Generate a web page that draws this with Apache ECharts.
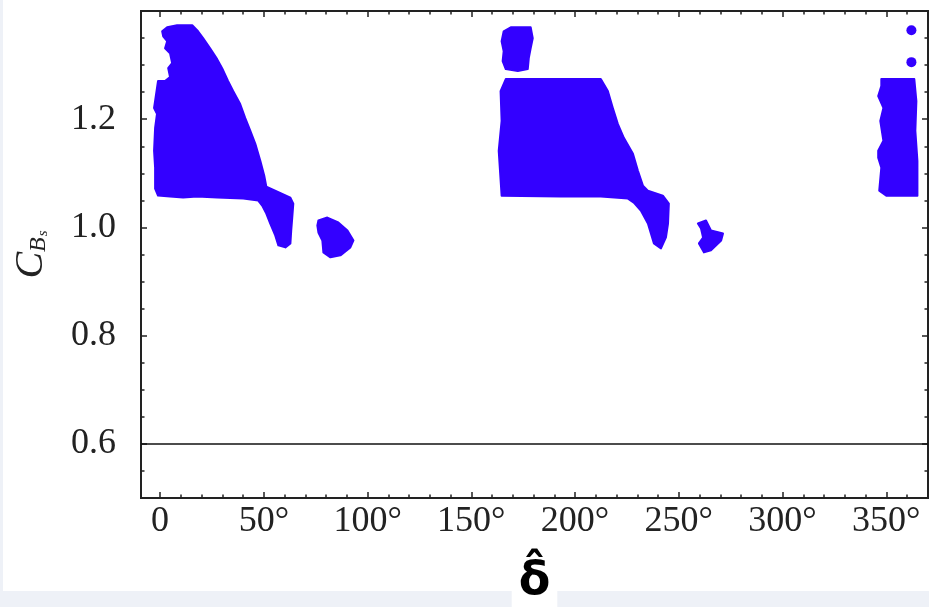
<!DOCTYPE html>
<html lang="en">
<head>
  <meta charset="UTF-8">
  <title>C_Bs vs delta</title>
  <style>
    html,
    body {
      margin: 0;
      padding: 0;
      background: #eef1f7;
    }

    #panel {
      position: absolute;
      left: 3px;
      top: 0;
      width: 926px;
      height: 591px;
      background: #fff;
    }

    #main {
      position: absolute;
      left: 0;
      top: 0;
      width: 929px;
      height: 607px;
    }
  </style>
</head>
<body>
  <div id="panel"></div>
  <div id="main"></div>
  <script src="https://cdn.jsdelivr.net/npm/echarts@6/dist/echarts.min.js"></script>
  <script>
    // tick positions
    const xMajor = [0, 50, 100, 150, 200, 250, 300, 350];
    const xMinor = [10, 20, 30, 40, 60, 70, 80, 90, 110, 120, 130, 140, 160, 170, 180, 190,
      210, 220, 230, 240, 260, 270, 280, 290, 310, 320, 330, 340, 360];
    const yMajor = [0.6, 0.8, 1.0, 1.2];
    const yMinor = [0.55, 0.65, 0.7, 0.75, 0.85, 0.9, 0.95, 1.05, 1.1, 1.15, 1.25, 1.3, 1.35];

    // allowed regions, outlines as [delta (deg), C_Bs]
    const leftMain = [
      [1.0, 1.3625], [3.4, 1.3699], [8.2, 1.3736], [15.5, 1.3736], [18.3, 1.3625], [20.8, 1.3496],
      [24.1, 1.3312], [27.5, 1.3110], [29.9, 1.2944], [32.8, 1.2705], [35.2, 1.2521], [38.6, 1.2282],
      [41.0, 1.2024], [43.5, 1.1785], [45.9, 1.1545], [48.3, 1.1233], [50.2, 1.0956], [51.2, 1.0754],
      [56.5, 1.0662], [62.8, 1.0552], [64.2, 1.0441], [63.7, 1.0183], [63.2, 0.9944], [62.8, 0.9705],
      [60.4, 0.9631], [57.0, 0.9668], [55.5, 0.9852], [53.1, 1.0073], [51.2, 1.0257], [49.2, 1.0404],
      [47.3, 1.0496], [40.1, 1.0533], [27.5, 1.0552], [17.9, 1.0570], [11.1, 1.0552], [4.8, 1.0570],
      [-1.0, 1.0588], [-2.4, 1.0717], [-2.4, 1.1104], [-2.9, 1.1417], [-2.4, 1.1840], [-1.5, 1.2098],
      [-2.9, 1.2208], [-2.4, 1.2337], [-1.5, 1.2576], [-1.0, 1.2705], [2.4, 1.2705], [4.8, 1.2779],
      [3.9, 1.2944], [5.8, 1.3036], [4.8, 1.3220], [2.4, 1.3312], [3.4, 1.3441], [1.5, 1.3533]
    ];
    const leftIsle = [
      [76.3, 1.0128], [80.6, 1.0183], [85.9, 1.0091], [90.3, 0.9944], [93.2, 0.9760], [91.7, 0.9631],
      [86.9, 0.9484], [82.1, 0.9447], [78.7, 0.9539], [78.2, 0.9760], [76.3, 0.9907], [75.8, 1.0036]
    ];
    const midTop = [
      [165.6, 1.3625], [169.0, 1.3699], [178.6, 1.3699], [179.6, 1.3496], [178.6, 1.3312], [177.7, 1.3128],
      [177.2, 1.2926], [172.4, 1.2889], [166.6, 1.2926], [165.1, 1.3073], [165.6, 1.3257], [164.6, 1.3441]
    ];
    const midMain = [
      [166.6, 1.2742], [212.4, 1.2742], [215.8, 1.2521], [218.2, 1.2208], [220.6, 1.1914], [223.5, 1.1656],
      [227.9, 1.1361], [230.3, 1.1048], [232.7, 1.0772], [235.1, 1.0680], [242.3, 1.0588], [245.2, 1.0441],
      [244.8, 1.0073], [243.8, 0.9815], [241.4, 0.9613], [238.0, 0.9705], [235.1, 1.0073], [231.7, 1.0312],
      [228.3, 1.0459], [225.5, 1.0533], [212.4, 1.0570], [193.1, 1.0570], [164.6, 1.0588], [163.2, 1.1417],
      [164.6, 1.1969], [164.1, 1.2521]
    ];
    const midIsle = [
      [259.2, 1.0073], [263.1, 1.0128], [265.5, 0.9944], [271.3, 0.9889], [270.4, 0.9760], [265.5, 0.9576],
      [262.1, 0.9539], [259.7, 0.9705], [261.7, 0.9815], [260.7, 0.9981]
    ];
    const rightMain = [
      [347.6, 1.2742], [363.5, 1.2742], [364.5, 1.2337], [364.0, 1.1785], [365.0, 1.1233], [365.0, 1.0588],
      [350.0, 1.0588], [346.6, 1.0680], [347.6, 1.1104], [346.1, 1.1288], [346.1, 1.1417], [348.6, 1.1601],
      [347.1, 1.1969], [348.6, 1.2208], [346.1, 1.2429], [347.6, 1.2613]
    ];
    const loosePoints = [[362.1, 1.3644], [362.1, 1.3055]];
    const limitLine = 0.6;

    const regions = [leftMain, leftIsle, midTop, midMain, midIsle, rightMain];

    const blue = '#3300ff';
    const ink = '#222';
    const serif = 'Liberation Serif';

    const tickLine = { color: ink, width: 1.5 };

    const xAxisOf = (pos, values, len, withLabel) => ({
      type: 'value',
      position: pos,
      min: -9.2,
      max: 370.1,
      axisLine: { show: false, onZero: false },
      splitLine: { show: false },
      axisTick: { show: true, inside: true, length: len, lineStyle: tickLine, customValues: values },
      axisLabel: withLabel ? {
        show: true,
        customValues: values,
        margin: 6,
        fontFamily: serif,
        fontSize: 36,
        color: ink,
        formatter: v => (v === 0 ? '0' : v + '°')
      } : { show: false }
    });

    const yAxisOf = (pos, values, len, withLabel) => ({
      type: 'value',
      position: pos,
      min: 0.5,
      max: 1.4,
      axisLine: { show: false, onZero: false },
      splitLine: { show: false },
      axisTick: { show: true, inside: true, length: len, lineStyle: tickLine, customValues: values },
      axisLabel: withLabel ? {
        show: true,
        customValues: values,
        margin: 25,
        fontFamily: serif,
        fontSize: 36,
        color: ink,
        formatter: v => v.toFixed(1)
      } : { show: false }
    });

    const draw = () => {
      const myChart = echarts.init(document.getElementById('main'));

      const xAxes = [
        xAxisOf('bottom', xMajor, 6, true),
        xAxisOf('bottom', xMinor, 3.5, false),
        xAxisOf('top', xMajor, 6, false),
        xAxisOf('top', xMinor, 3.5, false)
      ];
      xAxes[0].name = 'δ̂';
      xAxes[0].nameLocation = 'middle';
      xAxes[0].nameGap = 55;
      xAxes[0].nameTextStyle = {
        fontFamily: 'DejaVu Sans',
        fontWeight: 'bold',
        fontSize: 46,
        color: '#000',
        backgroundColor: '#fff',
        padding: [6, 7, 20, 7]
      };

      const yAxes = [
        yAxisOf('left', yMajor, 6, true),
        yAxisOf('left', yMinor, 3.5, false),
        yAxisOf('right', yMajor, 6, false),
        yAxisOf('right', yMinor, 3.5, false)
      ];
      yAxes[0].name = '{c|C}{b|B}{s|s}';
      yAxes[0].nameLocation = 'middle';
      yAxes[0].nameRotate = 90;
      yAxes[0].nameGap = 90;
      yAxes[0].nameTextStyle = {
        rich: {
          c: { fontFamily: serif, fontStyle: 'italic', fontSize: 40, lineHeight: 40, verticalAlign: 'top', color: ink },
          b: { fontFamily: serif, fontStyle: 'italic', fontSize: 24, lineHeight: 24, verticalAlign: 'bottom', padding: [22, 0, 0, 0], color: ink },
          s: { fontFamily: serif, fontStyle: 'italic', fontSize: 15, lineHeight: 15, verticalAlign: 'bottom', padding: [31, 0, 0, 1], color: ink }
        }
      };

      const option = {
        animation: false,
        grid: {
          left: 141,
          right: 1,
          top: 11,
          bottom: 109,
          containLabel: false,
          outerBoundsMode: 'none',
          show: true,
          backgroundColor: '#fff',
          borderColor: ink,
          borderWidth: 2
        },
        xAxis: xAxes,
        yAxis: yAxes,
        series: [{
            type: 'custom',
            coordinateSystem: 'cartesian2d',
            silent: true,
            data: regions.map(r => r[0]),
            renderItem: function (params, api) {
              const pts = regions[params.dataIndex].map(p => api.coord(p));
              return {
                type: 'polygon',
                shape: { points: pts },
                style: { fill: blue, stroke: blue, lineWidth: 2, lineJoin: 'round' }
              };
            }
          },
          {
            type: 'scatter',
            silent: true,
            symbolSize: 10,
            itemStyle: { color: blue, opacity: 1 },
            data: loosePoints,
            markLine: {
              silent: true,
              symbol: 'none',
              label: { show: false },
              lineStyle: { color: '#111', width: 1.5, type: 'solid' },
              data: [{ yAxis: limitLine }]
            }
          }
        ]
      };

      myChart.setOption(option);
    }

    draw();
  </script>
</body>

</html>
